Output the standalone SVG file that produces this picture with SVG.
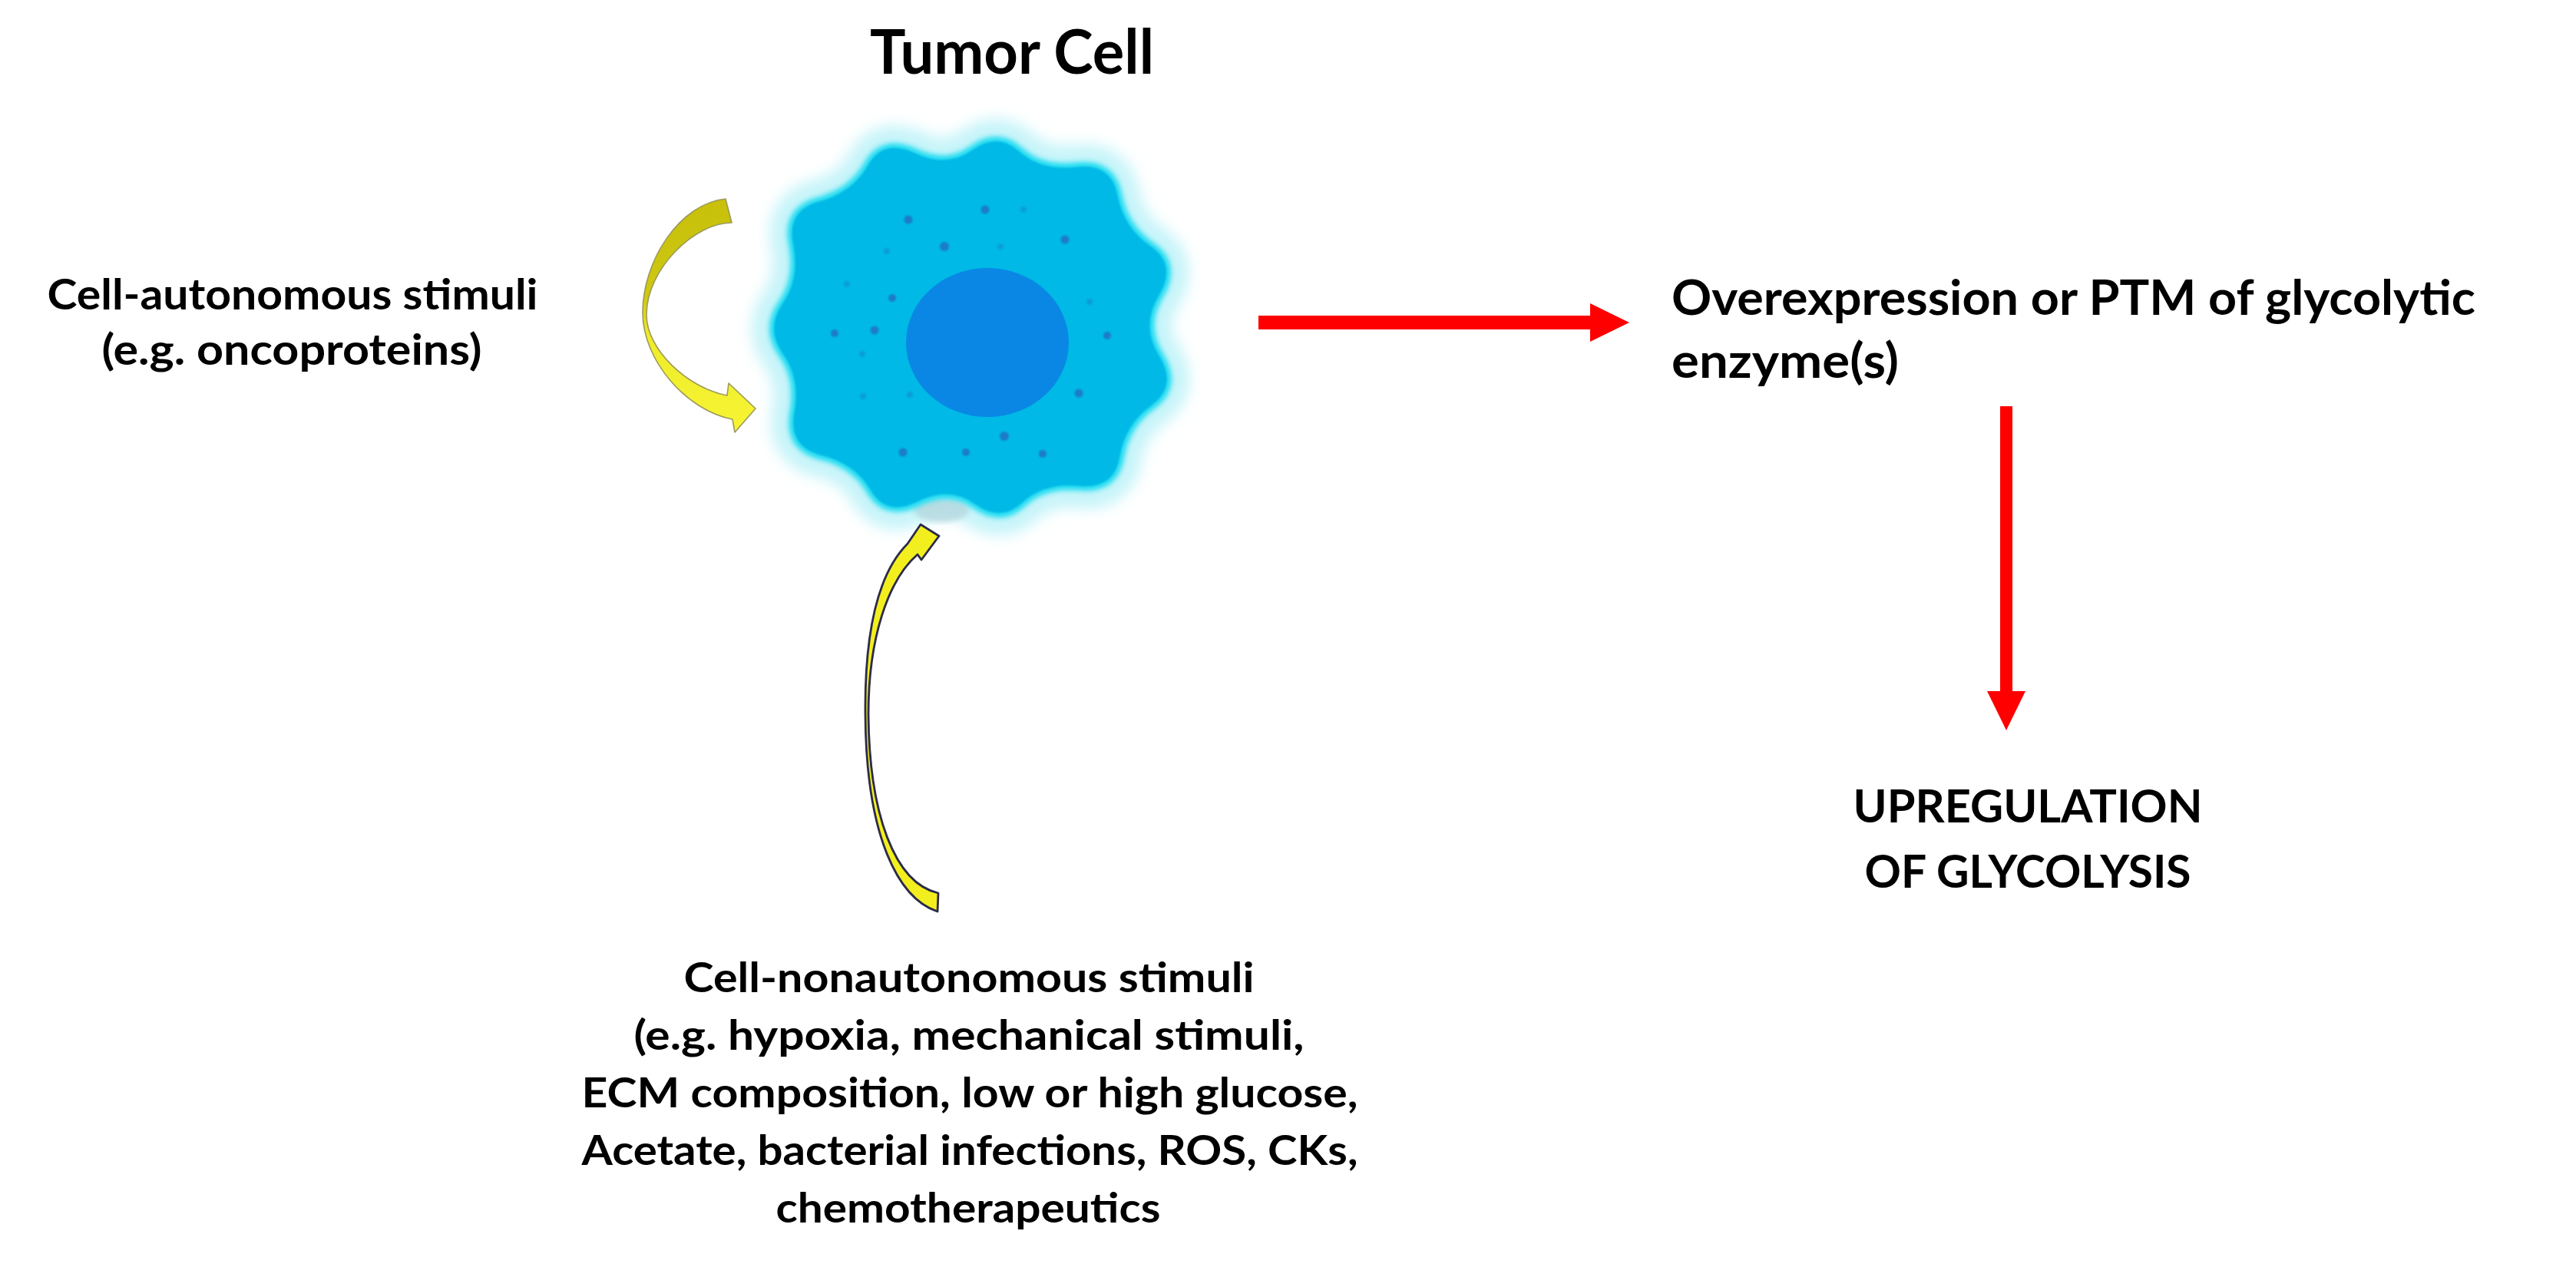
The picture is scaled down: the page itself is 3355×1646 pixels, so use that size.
<svg xmlns="http://www.w3.org/2000/svg" xmlns:xlink="http://www.w3.org/1999/xlink" width="3355" height="1646" viewBox="0 0 3355 1646">
  <style>
    .lbl { font-family: Lato, "Open Sans", "Liberation Sans", sans-serif; font-weight: 700; fill: #000000; }
    .red { fill: #FF0000; }
    .dot { fill: #1C7CC8; }
    .fdot { fill: #1C7CC8; opacity: 0.45; }
  </style>
  <defs>
    <path id="cellShape" d="M1067.3,262.2 Q1110.5,250.6 1130.4,215.3 Q1150.3,180.0 1191.9,199.5 Q1233.5,218.9 1266.5,195.3 Q1299.5,171.6 1327.7,197.2 Q1355.9,222.7 1401.7,217.4 Q1447.5,212.0 1455.5,254.2 Q1463.5,296.3 1498.5,320.6 Q1533.4,344.8 1509.4,384.6 Q1485.4,424.3 1509.8,463.5 Q1534.1,502.7 1499.8,527.7 Q1465.5,552.6 1458.3,595.0 Q1451.1,637.4 1405.3,632.9 Q1359.4,628.4 1331.6,654.5 Q1303.7,680.6 1270.3,656.7 Q1236.9,632.8 1195.7,653.0 Q1154.5,673.2 1134.1,638.4 Q1113.6,603.6 1070.0,592.9 Q1026.4,582.1 1034.5,537.7 Q1042.6,493.2 1019.6,460.7 Q996.6,428.1 1019.3,395.3 Q1041.9,362.4 1033.0,318.1 Q1024.0,273.8 1067.3,262.2 Z"/>
    <filter id="glowBlur" x="-20%" y="-20%" width="140%" height="140%">
      <feGaussianBlur stdDeviation="9"/>
    </filter>
    <filter id="rimBlur" x="-10%" y="-10%" width="120%" height="120%">
      <feGaussianBlur stdDeviation="3"/>
    </filter>
    <filter id="softBlur" x="-10%" y="-10%" width="120%" height="120%">
      <feGaussianBlur stdDeviation="1.2"/>
    </filter>
    <linearGradient id="leftArrowFill" gradientUnits="userSpaceOnUse" x1="0" y1="259" x2="0" y2="563">
      <stop offset="0" stop-color="#C8C00A"/>
      <stop offset="0.42" stop-color="#CEC812"/>
      <stop offset="0.58" stop-color="#EEEB2A"/>
      <stop offset="1" stop-color="#F7F533"/>
    </linearGradient>
  </defs>

  <rect x="0" y="0" width="3355" height="1646" fill="#FFFFFF"/>

  <!-- Tumor cell node -->
  <g id="tumor-cell">
    <text class="lbl" x="1318" y="96" font-size="80" text-anchor="middle" textLength="370" lengthAdjust="spacingAndGlyphs">Tumor Cell</text>
    <use href="#cellShape" fill="#C6F4F9" stroke="#C6F4F9" stroke-width="58" stroke-linejoin="round" filter="url(#glowBlur)"/>
    <ellipse cx="1226" cy="664" rx="36" ry="16" fill="#B4D8DE" opacity="0.8" filter="url(#rimBlur)"/>
    <use href="#cellShape" fill="none" stroke="#22DDF2" stroke-width="12" filter="url(#rimBlur)"/>
    <use href="#cellShape" fill="#04B9E6" filter="url(#softBlur)"/>
    <ellipse cx="1286" cy="446" rx="106" ry="97" fill="#0A87E4"/>
    <g filter="url(#softBlur)">
      <circle class="dot" cx="1183" cy="286" r="5.5"/>
      <circle class="dot" cx="1283" cy="273" r="5.5"/>
      <circle class="dot" cx="1387" cy="312" r="5.5"/>
      <circle class="dot" cx="1230" cy="321" r="6"/>
      <circle class="dot" cx="1162" cy="388" r="5"/>
      <circle class="dot" cx="1139" cy="430" r="5.5"/>
      <circle class="dot" cx="1087" cy="434" r="5"/>
      <circle class="dot" cx="1442" cy="437" r="5"/>
      <circle class="dot" cx="1405" cy="512" r="5.5"/>
      <circle class="dot" cx="1308" cy="568" r="6"/>
      <circle class="dot" cx="1176" cy="589" r="5.5"/>
      <circle class="dot" cx="1258" cy="589" r="5"/>
      <circle class="dot" cx="1358" cy="591" r="5"/>
      <circle class="fdot" cx="1155" cy="327" r="4"/>
      <circle class="fdot" cx="1103" cy="370" r="4"/>
      <circle class="fdot" cx="1123" cy="461" r="4"/>
      <circle class="fdot" cx="1419" cy="393" r="4"/>
      <circle class="fdot" cx="1124" cy="516" r="4"/>
      <circle class="fdot" cx="1185" cy="514" r="4"/>
      <circle class="fdot" cx="1333" cy="273" r="4"/>
      <circle class="fdot" cx="1303" cy="321" r="4"/>
    </g>
  </g>

  <!-- Cell-autonomous stimuli node -->
  <g id="cell-autonomous">
    <text class="lbl" x="381" y="403" font-size="56" text-anchor="middle" textLength="639" lengthAdjust="spacingAndGlyphs">Cell-autonomous stimuli</text>
    <text class="lbl" x="380" y="475" font-size="56" text-anchor="middle" textLength="495" lengthAdjust="spacingAndGlyphs">(e.g. oncoproteins)</text>
  </g>

  <!-- Cell-nonautonomous stimuli node -->
  <g id="cell-nonautonomous">
    <text class="lbl" x="1262" y="1292" font-size="54" text-anchor="middle" textLength="743" lengthAdjust="spacingAndGlyphs">Cell-nonautonomous stimuli</text>
    <text class="lbl" x="1262" y="1367" font-size="54" text-anchor="middle" textLength="873" lengthAdjust="spacingAndGlyphs">(e.g. hypoxia, mechanical stimuli,</text>
    <text class="lbl" x="1263" y="1442" font-size="54" text-anchor="middle" textLength="1011" lengthAdjust="spacingAndGlyphs">ECM composition, low or high glucose,</text>
    <text class="lbl" x="1263" y="1517" font-size="54" text-anchor="middle" textLength="1011" lengthAdjust="spacingAndGlyphs">Acetate, bacterial infections, ROS, CKs,</text>
    <text class="lbl" x="1261" y="1592" font-size="54" text-anchor="middle" textLength="501" lengthAdjust="spacingAndGlyphs">chemotherapeutics</text>
  </g>

  <!-- Overexpression node -->
  <g id="overexpression">
    <text class="lbl" x="2177" y="410" font-size="63" textLength="1047" lengthAdjust="spacingAndGlyphs">Overexpression or PTM of glycolytic</text>
    <text class="lbl" x="2177" y="492" font-size="63" textLength="296" lengthAdjust="spacingAndGlyphs">enzyme(s)</text>
  </g>

  <!-- Upregulation node -->
  <g id="upregulation">
    <text class="lbl" x="2641" y="1071" font-size="59" text-anchor="middle" textLength="455" lengthAdjust="spacingAndGlyphs">UPREGULATION</text>
    <text class="lbl" x="2641" y="1156" font-size="59" text-anchor="middle" textLength="425" lengthAdjust="spacingAndGlyphs">OF GLYCOLYSIS</text>
  </g>

  <!-- Connectors -->
  <g id="connectors">
    <path id="arrow-autonomous" d="M945,259 L953,290 C905,290 842,350 842,410 C842,455 895,505 947,515 L949,499 L984,532 L957,563 L954,546 C895,535 837,470 837,407 C837,340 885,265 945,259 Z" fill="url(#leftArrowFill)" stroke="#9C9A5A" stroke-width="1.6" stroke-linejoin="round"/>
    <path id="arrow-nonautonomous" d="M1221,1187 C1170,1170 1128,1090 1127,930 C1126,820 1145,745 1182,708 L1199,683 L1223,698 L1200,729 L1195,722 C1157,755 1131,830 1131,930 C1132,1060 1165,1150 1222,1163 Z" fill="#F3EF1E" stroke="#2B2B4A" stroke-width="2.8" stroke-linejoin="round"/>
    <g id="arrow-cell-to-enzyme">
      <rect class="red" x="1639" y="411" width="434" height="18"/>
      <polygon class="red" points="2071,395 2122,420 2071,445"/>
    </g>
    <g id="arrow-enzyme-to-glycolysis">
      <rect class="red" x="2605" y="529" width="16" height="372"/>
      <polygon class="red" points="2588,900 2638,900 2613,951"/>
    </g>
  </g>
</svg>
